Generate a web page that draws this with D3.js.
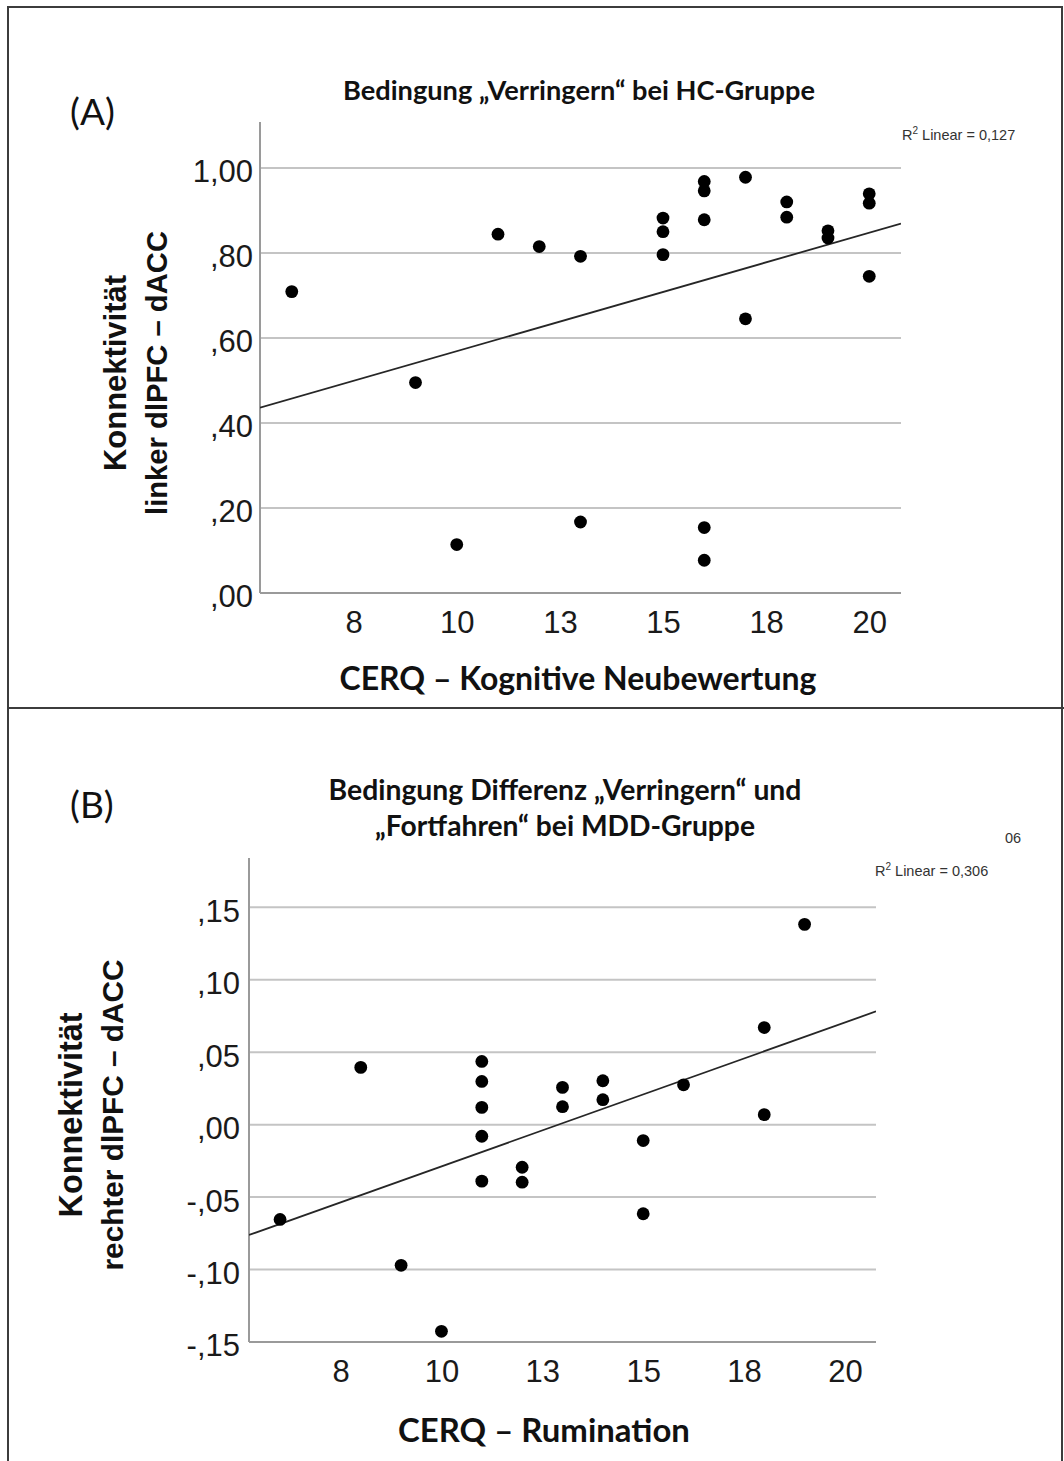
<!DOCTYPE html>
<html>
<head>
<meta charset="utf-8">
<script src="https://cdn.jsdelivr.net/npm/d3@7"></script>
<style>
  html, body { margin: 0; padding: 0; background: #fff; }
  svg { display: block; }
</style>
</head>
<body>
<svg id="chart" width="1064" height="1461"></svg>
<script>
// ---------------- DATA ----------------
const xTickValues = [7.5, 10, 12.5, 15, 17.5, 20];
const xTickLabels = ["8", "10", "13", "15", "18", "20"];

const yTickValuesA = [0, 0.2, 0.4, 0.6, 0.8, 1.0];
const yTickLabelsA = [",00", ",20", ",40", ",60", ",80", "1,00"];

const yTickValuesB = [-0.15, -0.10, -0.05, 0, 0.05, 0.10, 0.15];
const yTickLabelsB = ["-,15", "-,10", "-,05", ",00", ",05", ",10", ",15"];

// Panel A: CERQ – Kognitive Neubewertung vs. Konnektivität linker dlPFC – dACC
const cerqA = [6, 9, 10, 11, 12, 13, 13, 15, 15, 15, 16, 16, 16, 16, 16, 17, 17, 18, 18, 19, 19, 20, 20, 20];
const connA = [0.709, 0.495, 0.114, 0.844, 0.815, 0.792, 0.167, 0.882, 0.850, 0.796,
               0.968, 0.946, 0.878, 0.154, 0.077, 0.978, 0.645, 0.920, 0.884, 0.852,
               0.835, 0.939, 0.917, 0.745];
const fitA = [0.2903, 0.02786];   // intercept, slope (R² = 0,127)

// Panel B: CERQ – Rumination vs. Konnektivität rechter dlPFC – dACC
const cerqB = [6, 8, 9, 10, 11, 11, 11, 11, 11, 12, 12, 13, 13, 14, 14, 15, 15, 16, 18, 18, 19];
const connB = [-0.0654, 0.0395, -0.0971, -0.1426, 0.0436, 0.0298, 0.0119, -0.0080, -0.0390,
               -0.0294, -0.0397, 0.0257, 0.0124, 0.0303, 0.0172, -0.0110, -0.0615, 0.0275,
               0.0670, 0.0069, 0.1382];
const fitB = [-0.1281, 0.00993];  // intercept, slope (R² = 0,306)

const xDomain = [5.23, 20.77];

// ---------------- DRAW ----------------
const svg = d3.select("#chart");
const CAL = "Lato, 'Open Sans', sans-serif";
const ARIAL = "'Liberation Sans', Arial, sans-serif";

function fitWidth(sel, target) {
  const node = sel.node();
  const fs = parseFloat(sel.attr("font-size"));
  const w = node.getComputedTextLength();
  if (w > 0) sel.attr("font-size", (fs * target / w).toFixed(2));
  return sel;
}

// Outer frame and divider
svg.append("rect")
  .attr("x", 8).attr("y", 7).attr("width", 1054).attr("height", 1462)
  .attr("fill", "none").attr("stroke", "#3c3c3c").attr("stroke-width", 2);
svg.append("line")
  .attr("x1", 8).attr("x2", 1064).attr("y1", 708).attr("y2", 708)
  .attr("stroke", "#3c3c3c").attr("stroke-width", 2);

function panel(cfg) {
  const g = svg.append("g");
  const x = d3.scaleLinear().domain(xDomain).range([cfg.left, cfg.right]);
  const y = d3.scaleLinear().domain(cfg.yDomain).range([cfg.bottom, cfg.top]);

  // gridlines
  g.append("g").selectAll("line").data(cfg.yTicks.filter(v => v !== cfg.yDomain[0]))
    .join("line")
    .attr("x1", cfg.left).attr("x2", cfg.right)
    .attr("y1", d => y(d)).attr("y2", d => y(d))
    .attr("stroke", "#c4c4c4").attr("stroke-width", 2);

  // y axis labels
  const yAxis = d3.axisLeft(y).tickValues(cfg.yTicks)
    .tickFormat((d, i) => cfg.yLabels[i]).tickSize(0).tickPadding(cfg.yPad);
  const ya = g.append("g").attr("transform", `translate(${cfg.left},0)`).call(yAxis);
  ya.select(".domain").remove();
  ya.selectAll("text")
    .attr("font-family", ARIAL).attr("font-size", 31).attr("fill", "#1a1a1a")
    .attr("dy", "0.45em");

  // x axis labels
  const xAxis = d3.axisBottom(x).tickValues(xTickValues)
    .tickFormat((d, i) => xTickLabels[i]).tickSize(0).tickPadding(cfg.xPad);
  const xa = g.append("g").attr("transform", `translate(0,${cfg.bottom})`).call(xAxis);
  xa.select(".domain").remove();
  xa.selectAll("text")
    .attr("font-family", ARIAL).attr("font-size", 31).attr("fill", "#1a1a1a");

  // axis lines
  g.append("line").attr("x1", cfg.left).attr("x2", cfg.left)
    .attr("y1", cfg.top).attr("y2", cfg.bottom)
    .attr("stroke", "#9a9a9a").attr("stroke-width", 2);
  g.append("line").attr("x1", cfg.left).attr("x2", cfg.right)
    .attr("y1", cfg.bottom).attr("y2", cfg.bottom)
    .attr("stroke", "#9a9a9a").attr("stroke-width", 2);

  // fit line
  const clipId = "clip" + cfg.id;
  svg.append("clipPath").attr("id", clipId).append("rect")
    .attr("x", cfg.left).attr("y", cfg.top)
    .attr("width", cfg.right - cfg.left).attr("height", cfg.bottom - cfg.top);
  const lineGen = d3.line().x(d => x(d)).y(d => y(cfg.fit[0] + cfg.fit[1] * d));
  g.append("path").datum(xDomain)
    .attr("d", lineGen).attr("clip-path", `url(#${clipId})`)
    .attr("fill", "none").attr("stroke", "#262626").attr("stroke-width", 1.8);

  // points
  g.append("g").selectAll("circle").data(cfg.xs.map((v, i) => [v, cfg.ys[i]]))
    .join("circle")
    .attr("cx", d => x(d[0])).attr("cy", d => y(d[1])).attr("r", 6.4)
    .attr("fill", "#000");

  // panel letter
  g.append("text").attr("x", cfg.letterX).attr("y", cfg.letterY)
    .attr("font-family", CAL).attr("font-size", 37).attr("fill", "#111")
    .text(cfg.letter);

  // title lines
  cfg.titles.forEach(t => {
    const tt = g.append("text").attr("x", t.cx).attr("y", t.y)
      .attr("text-anchor", "middle")
      .attr("font-family", CAL).attr("font-weight", 700).attr("font-size", 24)
      .attr("fill", "#111").text(t.text);
    fitWidth(tt, t.w);
  });

  // x axis title
  const xt = g.append("text").attr("x", cfg.xTitle.cx).attr("y", cfg.xTitle.y)
    .attr("text-anchor", "middle")
    .attr("font-family", CAL).attr("font-weight", 700).attr("font-size", 30)
    .attr("fill", "#111").text(cfg.xTitle.text);
  fitWidth(xt, cfg.xTitle.w);

  // y axis title (two rotated lines)
  cfg.yTitle.forEach(t => {
    const yt = g.append("text")
      .attr("transform", `translate(${t.x},${cfg.yTitleCy}) rotate(-90)`)
      .attr("text-anchor", "middle")
      .attr("font-family", ARIAL).attr("font-weight", 700).attr("font-size", 29)
      .attr("fill", "#111").text(t.text);
    fitWidth(yt, t.w);
  });

  // R² annotation
  const r = g.append("text").attr("x", cfg.r2.x).attr("y", cfg.r2.y)
    .attr("font-family", ARIAL).attr("font-size", 14.5).attr("fill", "#333");
  r.append("tspan").text("R");
  r.append("tspan").attr("font-size", 10).attr("dy", -6).text("2");
  r.append("tspan").attr("dy", 6).text(" Linear = " + cfg.r2.value);
}

panel({
  id: "A", left: 260, right: 901, top: 122, bottom: 593,
  yDomain: [0, 1.108], yTicks: yTickValuesA, yLabels: yTickLabelsA,
  yPad: 7, xPad: 18,
  xs: cerqA, ys: connA, fit: fitA,
  letter: "(A)", letterX: 70, letterY: 125,
  titles: [{ text: "Bedingung \u201EVerringern\u201C bei HC-Gruppe", cx: 579, y: 100, w: 472 }],
  xTitle: { text: "CERQ \u2013 Kognitive Neubewertung", cx: 578, y: 690, w: 477 },
  yTitle: [{ text: "Konnektivit\u00E4t", x: 126, w: 196 },
           { text: "linker dlPFC \u2013 dACC", x: 167, w: 284 }],
  yTitleCy: 373,
  r2: { x: 902, y: 140, value: "0,127" }
});

panel({
  id: "B", left: 249, right: 876, top: 858, bottom: 1342,
  yDomain: [-0.15, 0.184], yTicks: yTickValuesB, yLabels: yTickLabelsB,
  yPad: 9, xPad: 18,
  xs: cerqB, ys: connB, fit: fitB,
  letter: "(B)", letterX: 70, letterY: 818,
  titles: [{ text: "Bedingung Differenz \u201EVerringern\u201C und", cx: 565, y: 800, w: 473 },
           { text: "\u201EFortfahren\u201C bei MDD-Gruppe", cx: 565, y: 836, w: 380 }],
  xTitle: { text: "CERQ \u2013 Rumination", cx: 544, y: 1442, w: 292 },
  yTitle: [{ text: "Konnektivit\u00E4t", x: 82, w: 205 },
           { text: "rechter dlPFC \u2013 dACC", x: 123, w: 311 }],
  yTitleCy: 1115,
  r2: { x: 875, y: 876, value: "0,306" }
});

// stray fragment of an overlapped label in the original figure
svg.append("text").attr("x", 1005).attr("y", 843)
  .attr("font-family", ARIAL).attr("font-size", 14.5).attr("fill", "#333").text("06");
</script>
</body>
</html>
